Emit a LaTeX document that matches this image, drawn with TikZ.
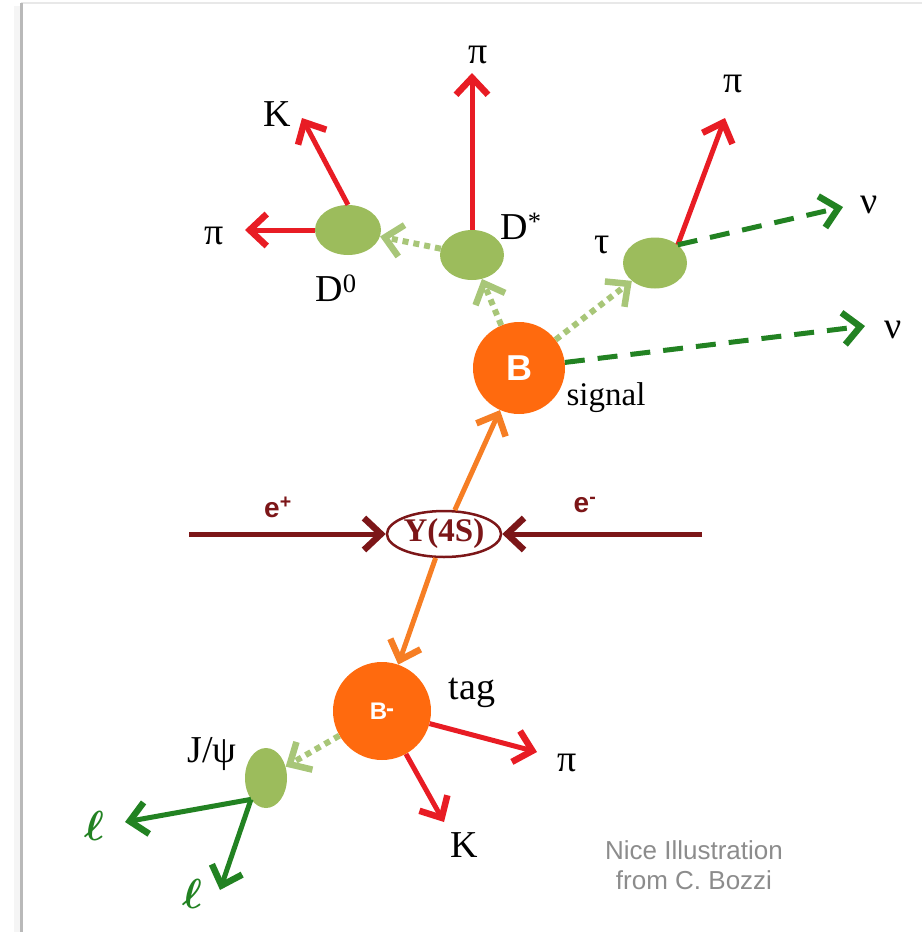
\documentclass[tikz,border=0pt]{standalone}
\usepackage{fontspec}
\setmainfont{Liberation Serif}
\newfontfamily\sansf{Liberation Sans}
\usetikzlibrary{arrows.meta,shapes.geometric}
\definecolor{redA}{RGB}{232,28,36}
\definecolor{dgreen}{RGB}{34,130,34}
\definecolor{lgreen}{RGB}{156,188,92}
\definecolor{dotgreen}{RGB}{168,198,120}
\definecolor{orangeA}{RGB}{255,106,14}
\definecolor{orangeL}{RGB}{246,126,36}
\definecolor{darkred}{RGB}{124,22,24}
\definecolor{capgray}{RGB}{140,140,140}
\tikzset{
  barb/.style={-{Straight Barb[length=17pt,width=32pt,line width=6.5pt]}},
  redarrow/.style={draw=redA, line width=5pt, barb},
  greenarrow/.style={draw=dgreen, line width=5pt, barb},
  dasharrow/.style={draw=dgreen, line width=5pt, dash pattern=on 20pt off 13pt, barb},
  dotarrow/.style={draw=dotgreen, line width=6pt, dash pattern=on 6pt off 5pt, barb},
  orangearrow/.style={draw=orangeL, line width=5pt, barb},
  beamarrow/.style={draw=darkred, line width=5pt, barb},
  lgell/.style={ellipse, fill=lgreen, inner sep=0pt},
  bcirc/.style={circle, fill=orangeA, inner sep=0pt, text=white},
  lab/.style={inner sep=0pt, font=\fontsize{38}{40}\selectfont},
  smlab/.style={inner sep=0pt, font=\fontsize{33}{36}\selectfont},
  elllab/.style={inner sep=0pt, text=dgreen},
  elab/.style={inner sep=0pt, text=darkred, font=\sansf\bfseries\fontsize{28}{30}\selectfont},
  note/.style={inner sep=0pt, text=capgray, font=\sansf\fontsize{26}{29}\selectfont}
}
\begin{document}
\begin{tikzpicture}[x=1pt,y=-1pt]
\useasboundingbox (0,0) rectangle (922,932);
% frame
\fill[gray!8] (14,6) rectangle (21,932);
\draw[gray!18, line width=2pt] (21,3) -- (922,3);
\draw[gray!55, line width=3pt] (21,3) -- (21,932);

% particles
\node[lgell, minimum width=66pt, minimum height=50pt] (D0) at (348,230) {};
\node[lgell, minimum width=64pt, minimum height=50pt] (Dst) at (472,255) {};
\node[lgell, minimum width=64pt, minimum height=51pt] (tau) at (655,263) {};
\node[lgell, minimum width=42pt, minimum height=60pt] (Jpsi) at (266,778) {};
\node[bcirc, minimum size=92pt, font=\sansf\bfseries\fontsize{36}{36}\selectfont] (Bsig) at (519,368) {B};
\node[bcirc, minimum size=98pt, font=\sansf\bfseries\fontsize{24}{24}\selectfont] (Btag) at (382,711) {B\kern-1pt\raisebox{3pt}{-}};
\node[ellipse, draw=darkred, line width=2.5pt, fill=white, minimum width=112pt, minimum height=46pt, inner sep=0pt, text=darkred, font=\bfseries\fontsize{33}{34}\selectfont] (Y) at (444,534) {Υ(4S)};

% free ends
\coordinate (epos) at (189,534);
\coordinate (eneg) at (702,534);
\coordinate (piD0) at (245,230);
\coordinate (KD0) at (302,118);
\coordinate (piDst) at (472,73);
\coordinate (pitau) at (725,118);
\coordinate (nutau) at (843,207);
\coordinate (nuB) at (865,326);
\coordinate (piTag) at (537,752);
\coordinate (KTag) at (444,822);
\coordinate (l1) at (125,822);
\coordinate (l2) at (220,890);

% beams and B mesons
\draw[beamarrow] (epos) -- (Y.west);
\draw[beamarrow] (eneg) -- (Y.east);
\draw[orangearrow] (Y) -- (Bsig);
\draw[orangearrow] (Y) -- (Btag);

% signal side
\draw[dotarrow] (Bsig) -- (Dst);
\draw[dotarrow] (Bsig) -- (tau);
\draw[dotarrow] (Dst) -- (D0);
\draw[dasharrow] (Bsig) -- (nuB);
\draw[redarrow] (Dst.north) -- (piDst);
\draw[redarrow] (D0.west) -- (piD0);
\draw[redarrow] (D0.north) -- (KD0);
\draw[redarrow] (tau.north east) -- (pitau);
\draw[dasharrow] (tau.north east) -- (nutau);

% tag side
\draw[redarrow] (Btag) -- (piTag);
\draw[redarrow] (Btag) -- (KTag);
\draw[dotarrow] (Btag) -- (Jpsi);
\draw[greenarrow] (Jpsi.south west) -- (l1);
\draw[greenarrow] (Jpsi.south west) -- (l2);

% labels
\node[lab] (tK1) at (277,114) {K};
\node[lab] (tpi1) at (214,236) {π};
\node[lab] (tpi2) at (478,55) {π};
\node[lab] (tpi3) at (733,84) {π};
\node[lab] (tD0) at (336,288) {D\textsuperscript{0}};
\node[lab] (tDst) at (521,226) {D\textsuperscript{*}};
\node[lab] (ttau) at (602,245) {τ};
\node[lab] (tnu1) at (869,205) {ν};
\node[lab] (tnu2) at (893,330) {ν};
\node[smlab] (tsig) at (606,398) {signal};
\node[lab] (ttag) at (472,693) {tag};
\node[lab] (tpi4) at (567,763) {π};
\node[lab] (tK2) at (464,845) {K};
\node[lab] (tJ) at (212,754) {J/ψ};
\node[elllab] (tl1) at (94,826) {\scalebox{4.2}{\boldmath$\ell$}};
\node[elllab] (tl2) at (192,894) {\scalebox{4.2}{\boldmath$\ell$}};
\node[elab] (tep) at (278,507) {e\textsuperscript{+}};
\node[elab] (ten) at (585,505) {e\textsuperscript{-}};
\node[note] (n1) at (694,850) {Nice Illustration};
\node[note] (n2) at (694,880) {from C. Bozzi};
\end{tikzpicture}
\end{document}
